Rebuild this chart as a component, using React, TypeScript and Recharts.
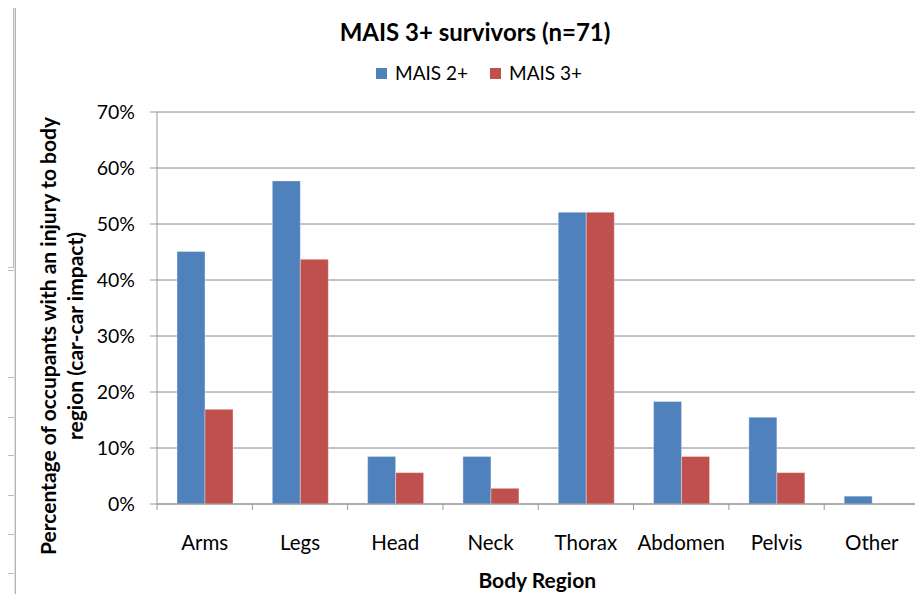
import React from 'react';
import {
  BarChart,
  Bar,
  XAxis,
  YAxis,
  CartesianGrid,
  Label,
} from 'recharts';

const categories = ['Arms', 'Legs', 'Head', 'Neck', 'Thorax', 'Abdomen', 'Pelvis', 'Other'];
const mais2Plus = [45.1, 57.7, 8.5, 8.5, 52.1, 18.3, 15.5, 1.4];
const mais3Plus = [16.9, 43.7, 5.6, 2.8, 52.1, 8.5, 5.6, 0];
const yTicks = [0, 10, 20, 30, 40, 50, 60, 70];

const BLUE = '#4F81BD';
const RED = '#C0504D';
const FONT = 'Lato, "Open Sans", sans-serif';

const W = 923;
const H = 602;
const PLOT_LEFT = 157;
const PLOT_RIGHT = 919.5;
const BAND = (PLOT_RIGHT - PLOT_LEFT) / categories.length;

const data = categories.map((name, i) => ({
  name,
  mais2: mais2Plus[i],
  mais3: mais3Plus[i],
}));

// category label at the band centre, tick marks on the band edges (Excel style)
function CategoryTick(props: any) {
  const { x, y, payload, index } = props;
  const left = x - BAND / 2;
  const right = x + BAND / 2;
  return (
    <g>
      <line x1={left} x2={left} y1={y} y2={y + 6} stroke="#999" />
      {index === categories.length - 1 && (
        <line x1={right} x2={right} y1={y} y2={y + 6} stroke="#999" />
      )}
      <text
        x={x}
        y={y + 38}
        textAnchor="middle"
        dominantBaseline="central"
        fontSize={20.5}
        fontFamily={FONT}
        fill="#000"
      >
        {payload.value}
      </text>
    </g>
  );
}

function YTitle() {
  const cy = 336;
  return (
    <g fontFamily={FONT} fontWeight="bold" fontSize={21} fill="#000">
      <text
        x={47}
        y={cy}
        textAnchor="middle"
        dominantBaseline="central"
        transform={`rotate(-90 47 ${cy})`}
      >
        Percentage of occupants with an injury to body
      </text>
      <text
        x={74}
        y={cy}
        textAnchor="middle"
        dominantBaseline="central"
        transform={`rotate(-90 74 ${cy})`}
      >
        region (car-car impact)
      </text>
    </g>
  );
}

const legendItems = [
  { label: 'MAIS 2+', color: BLUE },
  { label: 'MAIS 3+', color: RED },
];

const leftLines = [270, 377, 417, 455, 495, 534, 573];

export default function App() {
  return (
    <div
      style={{
        position: 'relative',
        width: W,
        height: H,
        margin: -8,
        overflow: 'hidden',
        background: '#fff',
      }}
    >
      {/* bits of the spreadsheet behind the chart */}
      <div style={{ position: 'absolute', left: 13, top: 0, width: 1, height: 267, background: '#BDBDBD' }} />
      <div style={{ position: 'absolute', left: 0, top: 267, width: 14, height: 1, background: '#BDBDBD' }} />
      <div style={{ position: 'absolute', left: 0, top: 168, width: 2, height: 1, background: '#BDBDBD' }} />
      {leftLines.map((y) => (
        <div key={y} style={{ position: 'absolute', left: 0, top: y, width: 16, height: 1, background: '#BDBDBD' }} />
      ))}

      {/* chart frame */}
      <div
        style={{
          position: 'absolute',
          left: 15,
          top: 4,
          width: 1000,
          height: 700,
          border: '1px solid #B4B4B4',
          boxShadow: '0 0 0 1px #E2E2E2',
          background: '#fff',
        }}
      />

      <div
        style={{
          position: 'absolute',
          left: 0,
          top: 16,
          width: 950,
          textAlign: 'center',
          fontFamily: FONT,
          fontWeight: 'bold',
          fontSize: 24,
          lineHeight: '32px',
          color: '#000',
        }}
      >
        MAIS 3+ survivors (n=71)
      </div>

      <div
        style={{
          position: 'absolute',
          left: 376,
          top: 61,
          display: 'flex',
          gap: 22,
          fontFamily: FONT,
          fontSize: 19,
          lineHeight: '24px',
          color: '#000',
        }}
      >
        {legendItems.map((it) => (
          <span key={it.label} style={{ display: 'flex', alignItems: 'center', gap: 8 }}>
            <span style={{ display: 'inline-block', width: 11, height: 11, background: it.color }} />
            {it.label}
          </span>
        ))}
      </div>

      <div style={{ position: 'absolute', left: 0, top: 0 }}>
        <BarChart
          width={W}
          height={H}
          data={data}
          margin={{ top: 112, right: W - PLOT_RIGHT, bottom: 0, left: 0 }}
          barCategoryGap={20}
          barGap={0}
        >
          <CartesianGrid vertical={false} stroke="#868686" />
          <XAxis
            dataKey="name"
            height={98}
            axisLine={{ stroke: '#999' }}
            tickLine={false}
            tickSize={0}
            tickMargin={0}
            interval={0}
            tick={<CategoryTick />}
          >
            <Label
              value="Body Region"
              position="insideBottom"
              offset={14}
              style={{ fontFamily: FONT, fontWeight: 'bold', fontSize: 21, fill: '#000' }}
              dx={-1}
            />
          </XAxis>
          <YAxis
            width={PLOT_LEFT}
            domain={[0, 70]}
            ticks={yTicks}
            interval={0}
            tickFormatter={(v: number) => `${v}%`}
            axisLine={{ stroke: '#999' }}
            tickLine={{ stroke: '#999' }}
            tickSize={7}
            tickMargin={15}
            tick={{ fontFamily: FONT, fontSize: 19.5, fill: '#000' }}
          >
            <Label content={<YTitle />} />
          </YAxis>
          <Bar
            dataKey="mais2"
            name="MAIS 2+"
            fill={BLUE}
            stroke="#fff"
            strokeOpacity={0.35}
            isAnimationActive={false}
          />
          <Bar
            dataKey="mais3"
            name="MAIS 3+"
            fill={RED}
            stroke="#fff"
            strokeOpacity={0.35}
            isAnimationActive={false}
          />
        </BarChart>
      </div>
    </div>
  );
}
